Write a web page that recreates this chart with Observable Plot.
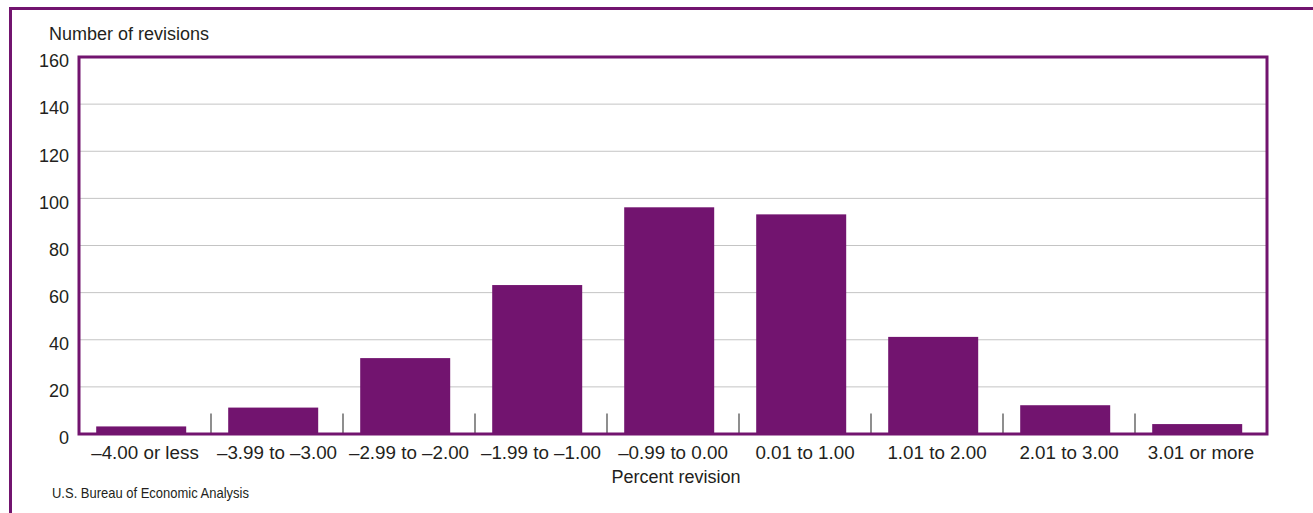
<!DOCTYPE html>
<html><head><meta charset="utf-8">
<script src="https://cdn.jsdelivr.net/npm/d3@7"></script>
<script src="https://cdn.jsdelivr.net/npm/@observablehq/plot@0.6"></script>
<style>
html,body{margin:0;padding:0;background:#fff;}
body{width:1313px;height:513px;overflow:hidden;position:relative;font-family:"Liberation Sans",Arial,Helvetica,sans-serif;color:#231f20;}
#border{position:absolute;left:9px;top:7px;width:1400px;height:600px;border-left:3px solid #72146f;border-top:3px solid #72146f;box-sizing:border-box;}
#ylab{position:absolute;left:49px;top:25px;font-size:18px;line-height:18px;white-space:nowrap;}
#chart{position:absolute;left:0;top:0;}
#source{position:absolute;left:52px;top:485px;font-size:15px;line-height:15px;white-space:nowrap;transform:scaleX(0.865);transform-origin:0 0;}
</style>
</head><body>
<div id="border"></div>
<div id="ylab">Number of revisions</div>
<div id="chart"></div>
<div id="source">U.S. Bureau of Economic Analysis</div>
<script>
const categories = ["\u20134.00 or less", "\u20133.99 to \u20133.00", "\u20132.99 to \u20132.00", "\u20131.99 to \u20131.00", "\u20130.99 to 0.00", "0.01 to 1.00", "1.01 to 2.00", "2.01 to 3.00", "3.01 or more"];
const counts = [3, 11, 32, 63, 96, 93, 41, 12, 4];
const yTicks = [0, 20, 40, 60, 80, 100, 120, 140, 160];
const xTitle = "Percent revision";

const purple = "#72146f";
const data = categories.map((c, i) => ({i, category: c, value: counts[i]}));
const boundaries = categories.slice(1).map((_, i) => i + 1);
const centers = categories.map((_, i) => i + 0.5);

const chart = Plot.plot({
  width: 1313,
  height: 513,
  marginLeft: 78.5,
  marginRight: 46.5,
  marginTop: 56.5,
  marginBottom: 79.5,
  style: {fontSize: "18px", fontFamily: '"Liberation Sans", Arial, Helvetica, sans-serif', color: "#231f20", background: "transparent"},
  x: {domain: [0, categories.length], axis: null},
  y: {domain: [0, 160], axis: null},
  marks: [
    Plot.ruleY(yTicks.filter(v => v > 0 && v < 160), {stroke: "#888", strokeWidth: 1, strokeDasharray: "1,1"}),
    Plot.rectY(data, {x1: "i", x2: d => d.i + 1, y: "value", fill: purple, insetLeft: 17.7, insetRight: 24.3}),
    Plot.ruleX(boundaries, {stroke: "#444", strokeWidth: 1.2, insetTop: 357}),
    Plot.axisY({ticks: yTicks, tickSize: 0, tickPadding: 10, dy: 4.5, label: null, fill: "#231f20"}),
    Plot.axisX({ticks: centers, tickFormat: d => categories[Math.floor(d)], tickSize: 0, tickPadding: 12, label: null, fill: "#231f20", fontSize: 18.8}),
    Plot.text([xTitle], {text: d => d, frameAnchor: "bottom", dy: 49, dx: 3, fill: "#231f20"}),
    Plot.frame({stroke: purple, strokeWidth: 3})
  ]
});
document.getElementById("chart").appendChild(chart);
</script>
</body></html>
